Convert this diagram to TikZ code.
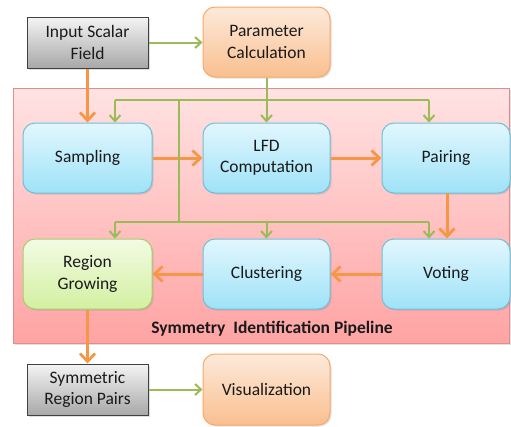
\documentclass[tikz,border=0pt]{standalone}
\usepackage{fontspec}
\setmainfont{Carlito}
\usetikzlibrary{arrows.meta,shadows,calc}
\definecolor{orA}{HTML}{F79646}
\definecolor{grA}{HTML}{9BBB59}
\definecolor{cyTop}{HTML}{E2F7FE}
\definecolor{cyBot}{HTML}{9EE2F8}
\definecolor{cyBd}{HTML}{6FC0DA}
\definecolor{orTop}{HTML}{FDEADB}
\definecolor{orBot}{HTML}{FABF8F}
\definecolor{orBd}{HTML}{F9A86A}
\definecolor{gnTop}{HTML}{F2FBE4}
\definecolor{gnBot}{HTML}{D3F0A0}
\definecolor{gnBd}{HTML}{A9CC70}
\definecolor{gyTop}{HTML}{F4F4F4}
\definecolor{gyBot}{HTML}{A8A8A8}
\definecolor{pnTop}{HTML}{FFE3E3}
\definecolor{pnBot}{HTML}{FFA3A3}
\definecolor{pnBd}{HTML}{DE8E8C}
\definecolor{txt}{HTML}{1A1A1A}
\tikzset{
  base/.style={align=center, text=txt, font=\fontsize{17.5}{21.5}\selectfont, line width=1pt,
    drop shadow={opacity=0.25, shadow xshift=1.5pt, shadow yshift=-1.5pt}},
  cybox/.style={base, rounded corners=12pt, draw=cyBd, top color=cyTop, bottom color=cyBot,
    minimum width=128pt, minimum height=70pt},
  orbox/.style={base, rounded corners=12pt, draw=orBd, top color=orTop, bottom color=orBot,
    minimum width=127pt, minimum height=70pt},
  gnbox/.style={base, rounded corners=12pt, draw=gnBd, top color=gnTop, bottom color=gnBot,
    minimum width=129pt, minimum height=70pt},
  gybox/.style={base, draw=black!75, top color=gyTop, bottom color=gyBot,
    minimum width=121pt, minimum height=51pt},
  oarrow/.style={draw=orA, line width=3pt, -{Straight Barb[length=8pt,width=15pt,line width=2.8pt]}},
  garrow/.style={draw=grA, line width=2pt, -{Straight Barb[length=6pt,width=11pt,line width=2pt]}},
  gline/.style={draw=grA, line width=2pt},
}
\begin{document}
\begin{tikzpicture}[x=1pt,y=-1pt]
\useasboundingbox (0,0) rectangle (511,426);
% panel
\node[draw=pnBd, line width=1pt, top color=pnTop, bottom color=pnBot,
  drop shadow={opacity=0.25, shadow xshift=1.5pt, shadow yshift=-1.5pt},
  minimum width=496pt, minimum height=255pt, inner sep=0pt] (panel) at (261.5,215.5) {};
\node[font=\bfseries\fontsize{17.5}{20}\selectfont, text=txt] (plabel) at (272,329) {Symmetry\ \ Identification\ Pipeline};

\node[gybox] (input) at (87.5,42.5) {Input Scalar\\Field};
\node[orbox] (param) at (266.5,42) {Parameter\\Calculation};
\node[cybox, minimum width=129pt] (sampling) at (87.5,158) {Sampling};
\node[cybox, minimum width=127pt] (lfd) at (266.5,158) {LFD\\Computation};
\node[cybox] (pairing) at (446,158) {Pairing};
\node[gnbox] (region) at (87.5,274) {Region\\Growing};
\node[cybox, minimum width=127pt] (clust) at (266.5,274) {Clustering};
\node[cybox] (voting) at (446,274) {Voting};
\node[gybox] (sym) at (87.5,389.5) {Symmetric\\Region Pairs};
\node[orbox, minimum height=71pt] (vis) at (266.5,389.5) {Visualization};

% orange flow
\draw[oarrow] (input.south) -- (sampling.north);
\draw[oarrow] (sampling.east) -- (lfd.west);
\draw[oarrow] (lfd.east) -- (pairing.west);
\coordinate (pv) at (447,193);
\draw[oarrow] (pv) -- (pv |- voting.north);
\draw[oarrow] (voting.west) -- (clust.east);
\draw[oarrow] (clust.west) -- (region.east);
\draw[oarrow] (region.south) -- (sym.north);

% green bus
\coordinate (tb1) at (115,100);
\coordinate (tb2) at (429,100);
\coordinate (tr1) at (179,100);
\coordinate (tr2) at (179,222);
\coordinate (lb1) at (115,222);
\coordinate (lb2) at (429,222);
\coordinate (lbm) at (266.5,222);
\draw[gline] (tb1) -- (tb2);
\draw[gline] (tr1) -- (tr2);
\draw[gline] (lb1) -- (lb2);
\draw[garrow] (tb1) -- (tb1 |- sampling.north);
\draw[garrow] (tb2) -- (tb2 |- pairing.north);
\draw[garrow] (param.south) -- (lfd.north);
\draw[garrow] (lb1) -- (lb1 |- region.north);
\draw[garrow] (lbm) -- (clust.north);
\draw[garrow] (lb2) -- (lb2 |- voting.north);
\draw[garrow] (input.east) -- (param.west |- input.east);
\draw[garrow] (sym.east) -- (vis.west |- sym.east);
\end{tikzpicture}
\end{document}
